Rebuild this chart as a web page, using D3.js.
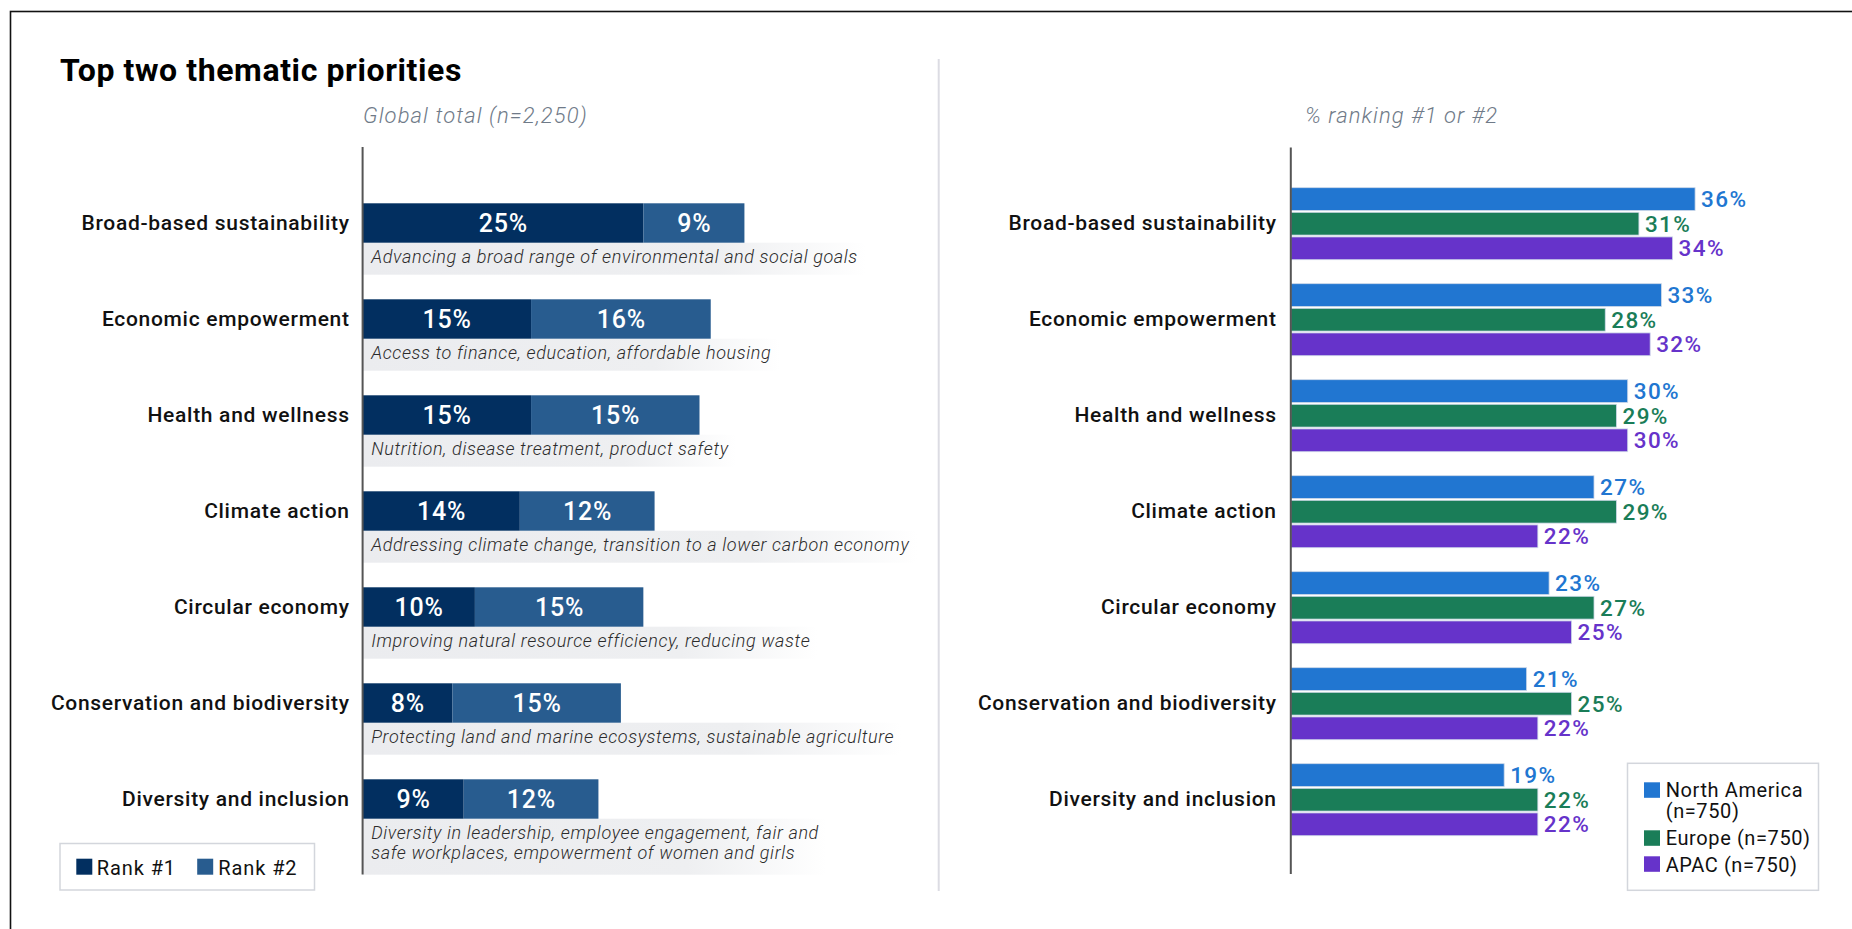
<!DOCTYPE html>
<html>
<head>
<meta charset="utf-8">
<script src="https://cdn.jsdelivr.net/npm/d3@7/dist/d3.min.js"></script>
<style>
  html, body { margin: 0; padding: 0; background: #fff; }
  svg { display: block; font-family: Roboto, "Noto Sans", sans-serif; }
</style>
</head>
<body>
<svg id="chart" width="1852" height="929"></svg>
<script>
// ---- Data ----
const categories = [
  "Broad-based sustainability",
  "Economic empowerment",
  "Health and wellness",
  "Climate action",
  "Circular economy",
  "Conservation and biodiversity",
  "Diversity and inclusion"
];
const descriptions = [
  ["Advancing a broad range of environmental and social goals"],
  ["Access to finance, education, affordable housing"],
  ["Nutrition, disease treatment, product safety"],
  ["Addressing climate change, transition to a lower carbon economy"],
  ["Improving natural resource efficiency, reducing waste"],
  ["Protecting land and marine ecosystems, sustainable agriculture"],
  ["Diversity in leadership, employee engagement, fair and", "safe workplaces, empowerment of women and girls"]
];
const rank1 = [25, 15, 15, 14, 10, 8, 9];
const rank2 = [9, 16, 15, 12, 15, 15, 12];
const rankNames = ["Rank #1", "Rank #2"];

const regions = ["North America", "Europe", "APAC"];
const regionLegend = [["North America", "(n=750)"], ["Europe (n=750)"], ["APAC (n=750)"]];
const northAmerica = [36, 33, 30, 27, 23, 21, 19];
const europe = [31, 28, 29, 29, 27, 25, 22];
const apac = [34, 32, 30, 22, 25, 22, 22];

const titleText = "Top two thematic priorities";
const leftSubtitle = "Global total (n=2,250)";
const rightSubtitle = "% ranking #1 or #2";

// ---- Styling ----
const rankColors = ["#022f60", "#285c8f"];
const regionColors = ["#2176d1", "#1a7d58", "#6633ca"];

const svg = d3.select("#chart");

// outer frame (top and left edges visible)
svg.append("rect")
  .attr("x", 10.5).attr("y", 11.5)
  .attr("width", 2000).attr("height", 1000)
  .attr("fill", "none").attr("stroke", "#111").attr("stroke-width", 1.6);

// title
svg.append("text")
  .attr("x", 60).attr("y", 81)
  .attr("font-size", 32).attr("font-weight", 700).attr("fill", "#000")
  .attr("letter-spacing", 0.6)
  .text(titleText);

// divider between the two panels
svg.append("line")
  .attr("x1", 938.7).attr("x2", 938.7).attr("y1", 59).attr("y2", 891)
  .attr("stroke", "#dcdce3").attr("stroke-width", 2);

// ---- Scales ----
const rowScale = d3.scaleBand().domain(categories).range([175, 847]);
const cy = c => rowScale(c) + rowScale.bandwidth() / 2;
const x = d3.scaleLinear().domain([0, 40]).range([0, 449.2]);

const leftX0 = 362.6;
const rightX0 = 1290.8;

const subtitleStyle = sel => sel
  .attr("font-size", 22).attr("font-style", "italic").attr("font-weight", 300)
  .attr("letter-spacing", 1.1).attr("fill", "#6f7a88");
const categoryStyle = sel => sel
  .attr("text-anchor", "end")
  .attr("font-size", 21).attr("font-weight", 500).attr("letter-spacing", 0.7)
  .attr("fill", "#111");

// ---- Left panel: stacked Rank #1 / Rank #2 ----
const left = svg.append("g");

left.append("text")
  .attr("x", 363).attr("y", 123.3)
  .call(subtitleStyle)
  .text(leftSubtitle);

const grad = svg.append("defs").append("linearGradient")
  .attr("id", "bandFade").attr("x1", "0%").attr("x2", "100%");
grad.append("stop").attr("offset", "0%").attr("stop-color", "#ebecef");
grad.append("stop").attr("offset", "70%").attr("stop-color", "#eeeff1");
grad.append("stop").attr("offset", "100%").attr("stop-color", "#ffffff");

const leftRows = left.selectAll("g.row")
  .data(categories.map((c, i) => ({ c, i, r1: rank1[i], r2: rank2[i], desc: descriptions[i] })))
  .join("g").attr("class", "row");

const barH = 39.4;

// description band + text
leftRows.each(function(d) {
  const g = d3.select(this);
  const top = cy(d.c) + barH / 2;
  const bandH = 32 + (d.desc.length - 1) * 24;
  const band = g.append("rect")
    .attr("x", leftX0).attr("y", top)
    .attr("height", bandH)
    .attr("fill", "url(#bandFade)");
  const t = g.append("text")
    .attr("font-size", 18).attr("font-style", "italic").attr("font-weight", 300)
    .attr("letter-spacing", 0.62)
    .attr("fill", "#2b2b2b");
  d.desc.forEach((line, k) => {
    t.append("tspan").attr("x", leftX0 + 8.6).attr("y", top + 20.6 + k * 20).text(line);
  });
  const w = t.node().getBBox().width;
  band.attr("width", w + 16);
});

// stacked bars
leftRows.append("rect")
  .attr("x", leftX0)
  .attr("y", d => cy(d.c) - barH / 2)
  .attr("width", d => x(d.r1))
  .attr("height", barH)
  .attr("fill", rankColors[0]);
leftRows.append("rect")
  .attr("x", d => leftX0 + x(d.r1))
  .attr("y", d => cy(d.c) - barH / 2)
  .attr("width", d => x(d.r2))
  .attr("height", barH)
  .attr("fill", rankColors[1]);

const segLabel = sel => sel
  .attr("text-anchor", "middle")
  .attr("font-size", 25).attr("font-weight", 500).attr("letter-spacing", 0.8)
  .attr("fill", "#fff");
leftRows.append("text")
  .attr("x", d => leftX0 + x(d.r1) / 2 + 0.4)
  .attr("y", d => cy(d.c) + 8.6)
  .call(segLabel)
  .text(d => d.r1 + "%");
leftRows.append("text")
  .attr("x", d => leftX0 + x(d.r1) + x(d.r2) / 2 + 0.4)
  .attr("y", d => cy(d.c) + 8.6)
  .call(segLabel)
  .text(d => d.r2 + "%");

leftRows.append("text")
  .attr("x", 349.7).attr("y", d => cy(d.c) + 7.3)
  .call(categoryStyle)
  .text(d => d.c);

left.append("line")
  .attr("x1", leftX0).attr("x2", leftX0).attr("y1", 147).attr("y2", 874.5)
  .attr("stroke", "#555").attr("stroke-width", 2);

// left legend
const lLeg = svg.append("g");
lLeg.append("rect")
  .attr("x", 60).attr("y", 843.5).attr("width", 254.5).attr("height", 46.5)
  .attr("fill", "#fff").attr("stroke", "#d3d6dc").attr("stroke-width", 1.5);
const lItems = [{ sx: 76.3, tx: 96.8 }, { sx: 197.2, tx: 218.3 }];
rankNames.forEach((name, i) => {
  lLeg.append("rect")
    .attr("x", lItems[i].sx).attr("y", 858.7).attr("width", 16).attr("height", 16)
    .attr("fill", rankColors[i]);
  lLeg.append("text")
    .attr("x", lItems[i].tx).attr("y", 874.5)
    .attr("font-size", 20).attr("letter-spacing", 0.9).attr("fill", "#111")
    .text(name);
});

// ---- Right panel: grouped bars by region ----
const right = svg.append("g");

right.append("text")
  .attr("x", 1305).attr("y", 123.3)
  .call(subtitleStyle)
  .text(rightSubtitle);

const regionScale = d3.scaleBand().domain(regions).range([-35.3, 36.7]).paddingInner(0.075);
const regionValues = [northAmerica, europe, apac];

const rightRows = right.selectAll("g.row")
  .data(categories.map((c, i) => ({ c, i })))
  .join("g").attr("class", "row");

rightRows.append("text")
  .attr("x", 1276.7).attr("y", d => cy(d.c) + 7.3)
  .call(categoryStyle)
  .text(d => d.c);

rightRows.selectAll("rect.bar")
  .data(d => regions.map((r, k) => ({ r, k, v: regionValues[k][d.i], c: d.c })))
  .join("rect").attr("class", "bar")
  .attr("x", rightX0)
  .attr("y", d => cy(d.c) + regionScale(d.r))
  .attr("width", d => x(d.v))
  .attr("height", regionScale.bandwidth())
  .attr("fill", d => regionColors[d.k])
  .attr("stroke", "#cdd8e8").attr("stroke-width", 0.8);

rightRows.selectAll("text.val")
  .data(d => regions.map((r, k) => ({ r, k, v: regionValues[k][d.i], c: d.c })))
  .join("text").attr("class", "val")
  .attr("x", d => rightX0 + x(d.v) + 6)
  .attr("y", d => cy(d.c) + regionScale(d.r) + regionScale.bandwidth() / 2 + 7.8)
  .attr("font-size", 22.5).attr("font-weight", 500).attr("letter-spacing", 1.4)
  .attr("fill", d => regionColors[d.k])
  .text(d => d.v + "%");

right.append("line")
  .attr("x1", rightX0).attr("x2", rightX0).attr("y1", 147.5).attr("y2", 874)
  .attr("stroke", "#555").attr("stroke-width", 2);

// right legend
const rLeg = svg.append("g");
rLeg.append("rect")
  .attr("x", 1627.5).attr("y", 763.3).attr("width", 191).attr("height", 127)
  .attr("fill", "#fff").attr("stroke", "#d3d6dc").attr("stroke-width", 1.5);
const swatchY = [782.3, 830.3, 856.3];
const textY = [796.7, 845, 871.7];
regionLegend.forEach((lines, i) => {
  rLeg.append("rect")
    .attr("x", 1644).attr("y", swatchY[i]).attr("width", 16).attr("height", 15.5)
    .attr("fill", regionColors[i]);
  const t = rLeg.append("text")
    .attr("font-size", 20).attr("letter-spacing", 0.6).attr("fill", "#111");
  lines.forEach((line, k) => {
    t.append("tspan").attr("x", 1665.7).attr("y", textY[i] + k * 21.6).text(line);
  });
});
</script>
</body>
</html>
